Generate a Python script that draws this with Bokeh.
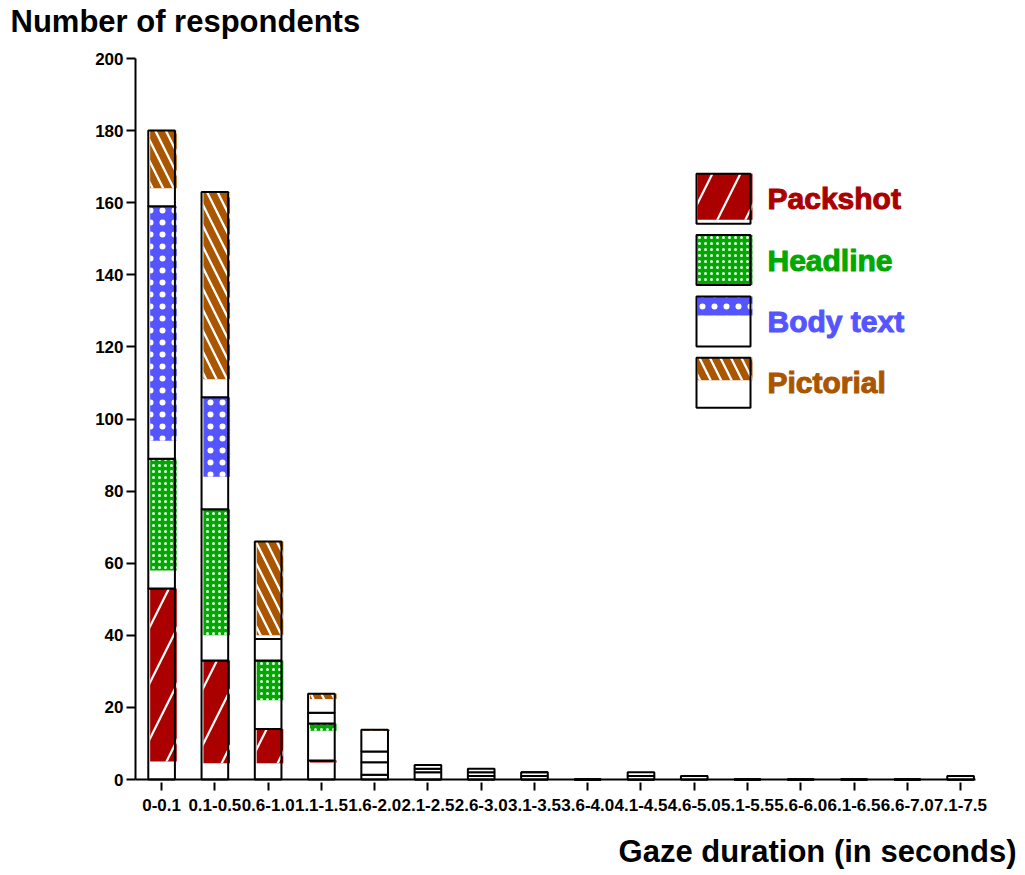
import numpy as np
from bokeh.plotting import figure
from bokeh.models import Range1d, FixedTicker, Label, BoxAnnotation, ColumnDataSource
from bokeh.embed import file_html
from bokeh.resources import INLINE
from bokeh.transform import dodge

# ---------------- data ----------------
categories = ["0-0.1", "0.1-0.5", "0.6-1.0", "1.1-1.5", "1.6-2.0", "2.1-2.5",
              "2.6-3.0", "3.1-3.5", "3.6-4.0", "4.1-4.5", "4.6-5.0", "5.1-5.5",
              "5.6-6.0", "6.1-6.5", "6.6-7.0", "7.1-7.5"]
series_names = ["Packshot", "Headline", "Body text", "Pictorial"]

# number of respondents per segment (box heights)
packshot  = [53, 33, 14, 5.3, 1.3, 0, 0, 0, 0, 0, 0, 0, 0, 0, 0, 0]
headline  = [36, 42, 19, 10.2, 3.5, 2, 1, 1, 0, 0, 1, 0, 0, 0, 0, 0]
body_text = [70, 31, 6, 3.0, 3.0, 1, 1, 1, 0, 1, 0, 0, 0, 0, 0, 1]
pictorial = [21, 57, 27, 5.3, 6.0, 1, 1, 0, 0, 1, 0, 0, 0, 0, 0, 0]

# hatched (coloured) part of each segment, measured from the segment top
packshot_fill  = [48, 28.5, 9.5, 0.6, 0, 0, 0, 0, 0, 0, 0, 0, 0, 0, 0, 0]
headline_fill  = [31, 35, 11, 2.0, 0, 0, 0, 0, 0, 0, 0, 0, 0, 0, 0, 0]
body_text_fill = [65, 22, 0, 0, 0, 0, 0, 0, 0, 0, 0, 0, 0, 0, 0, 0]
pictorial_fill = [16, 52, 26, 1.5, 0.3, 0, 0, 0, 0, 0, 0, 0, 0, 0, 0, 0]

y_min, y_max = 0, 200
y_ticks = [0, 20, 40, 60, 80, 100, 120, 140, 160, 180, 200]

y_title = "Number of respondents"
x_title = "Gaze duration (in seconds)"

# legend: share of the swatch that is hatched
legend_fill_share = [0.92, 1.0, 0.38, 0.45]

# ---------------- layout / style ----------------
FONT = "Liberation Sans"
W, H = 1017, 872                 # canvas size (px)
PLOT_L, PLOT_R = 135, 975        # axis extents (px from left)
PLOT_T, PLOT_B = 58, 779         # axis extents (px from top)
PAD_L, PAD_R = 0.49, 0.28        # category padding at both ends (in category widths)

n = len(categories)
dx = (PLOT_R - PLOT_L) / (n - 1 + PAD_L + PAD_R)       # px per category
dy = (PLOT_B - PLOT_T) / (y_max - y_min)               # px per respondent
x0 = PLOT_L + PAD_L * dx                               # px of first category centre

colors = ["#AA0000", "#00A800", "#5555FF", "#AA5500"]
hatch = [dict(hatch_pattern="/", hatch_scale=56, hatch_weight=2.2),
         dict(hatch_pattern=".", hatch_scale=6, hatch_weight=3.0),
         dict(hatch_pattern=".", hatch_scale=12, hatch_weight=2.6),
         dict(hatch_pattern="\\", hatch_scale=21, hatch_weight=2.3)]

values = [packshot, headline, body_text, pictorial]
fills = [packshot_fill, headline_fill, body_text_fill, pictorial_fill]

x_idx = list(range(n))

# the frame covers the whole canvas so that no text is clipped; axes sit at fixed places
p = figure(width=W, height=H, output_backend="svg", toolbar_location=None,
           x_range=Range1d(-x0 / dx, (W - x0) / dx),
           y_range=Range1d(y_min - (H - PLOT_B) / dy, y_max + PLOT_T / dy),
           min_border=0, min_border_left=0, min_border_right=0,
           min_border_top=0, min_border_bottom=0)
p.background_fill_color = "white"
p.border_fill_color = "white"
p.outline_line_color = None
p.xgrid.visible = False
p.ygrid.visible = False

BAR_W = 0.5
bottom = np.zeros(n)
for name, vals, fvals, col, h in zip(series_names, values, fills, colors, hatch):
    v = np.array(vals, dtype=float)
    f = np.array(fvals, dtype=float)
    top = bottom + v
    src = ColumnDataSource(dict(x=x_idx, bottom=bottom.copy(), top=top,
                                fbottom=top - f, ftop=top))
    p.vbar(x="x", width=BAR_W, bottom="bottom", top="top", source=src,
           fill_color="white", line_color=None)
    p.vbar(x=dodge("x", 0.035, range=p.x_range), width=BAR_W, bottom="fbottom", top="ftop",
           source=src, fill_color=col, line_color=None, hatch_color="white", **h)
    p.vbar(x="x", width=BAR_W, bottom="bottom", top="top", source=src,
           fill_color=None, line_color="black", line_width=2)
    bottom = top

# axes
for ax in (p.xaxis[0], p.yaxis[0]):
    ax.axis_line_width = 2
    ax.axis_line_color = "black"
    ax.major_tick_line_width = 2
    ax.major_tick_line_color = "black"
    ax.minor_tick_line_color = None
    ax.major_label_text_font = FONT
    ax.major_label_text_font_style = "bold"
    ax.major_label_text_color = "black"

p.yaxis.fixed_location = -PAD_L
p.yaxis.bounds = (y_min, y_max)
p.yaxis.ticker = FixedTicker(ticks=y_ticks)
p.yaxis.major_tick_out = 9
p.yaxis.major_tick_in = 0
p.yaxis.major_label_standoff = 3
p.yaxis.major_label_text_font_size = "17px"

p.xaxis.fixed_location = y_min
p.xaxis.bounds = (-PAD_L, n - 1 + PAD_R)
p.xaxis.ticker = FixedTicker(ticks=x_idx)
p.xaxis.major_label_overrides = {i: c for i, c in zip(x_idx, categories)}
p.xaxis.major_tick_in = -3
p.xaxis.major_tick_out = 11
p.xaxis.major_label_standoff = 8
p.xaxis.major_label_text_font_size = "17px"


def scr_label(x, y_from_top, text, color, align="left", size="30px"):
    return Label(x=x, y=H - y_from_top, x_units="screen", y_units="screen",
                 text=text, text_font=FONT, text_font_style="bold",
                 text_font_size=size, text_color=color, text_baseline="middle",
                 text_align=align)


# axis titles
p.add_layout(scr_label(10, 21.4, y_title, "black", size="31px"))
p.add_layout(scr_label(W - 1, 850.5, x_title, "black", align="right", size="31px"))

# legend (drawn by hand to show the partly hatched swatches)
LEG_LEFT, LEG_TOP, SW_W, SW_H, STEP = 696, 173.3, 54, 50, 61.3
for i, (name, col, h, share) in enumerate(zip(series_names, colors, hatch, legend_fill_share)):
    t_ = H - (LEG_TOP + i * STEP)
    b_ = t_ - SW_H
    p.add_layout(BoxAnnotation(left=LEG_LEFT, right=LEG_LEFT + SW_W, top=t_, bottom=b_,
                               left_units="screen", right_units="screen",
                               top_units="screen", bottom_units="screen",
                               fill_color="white", fill_alpha=1, line_color=None))
    p.add_layout(BoxAnnotation(left=LEG_LEFT + 1, right=LEG_LEFT + SW_W + 2, top=t_,
                               bottom=t_ - SW_H * share,
                               left_units="screen", right_units="screen",
                               top_units="screen", bottom_units="screen",
                               fill_color=col, fill_alpha=1, line_color=None,
                               hatch_color="white", hatch_alpha=1, **h))
    p.add_layout(BoxAnnotation(left=LEG_LEFT, right=LEG_LEFT + SW_W, top=t_, bottom=b_,
                               left_units="screen", right_units="screen",
                               top_units="screen", bottom_units="screen",
                               fill_alpha=0, line_color="black", line_width=2, line_alpha=1))
    lab = scr_label(LEG_LEFT + 71, LEG_TOP + i * STEP + SW_H / 2, name, col)
    if "text_outline_color" in lab.properties():
        lab.text_outline_color = col
    p.add_layout(lab)

open("out.html", "w").write(file_html(p, INLINE))
